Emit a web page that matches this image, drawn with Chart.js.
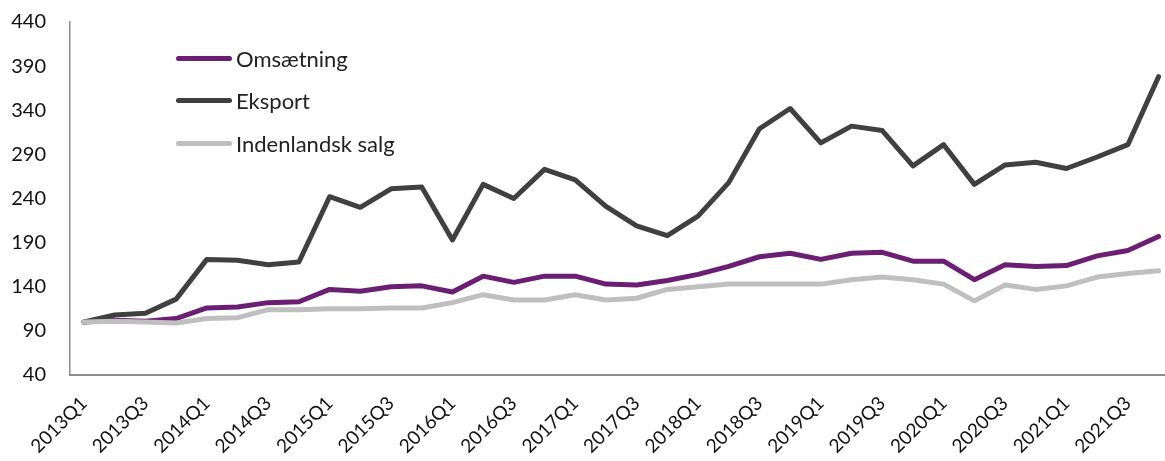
<!DOCTYPE html>
<html>
<head>
<meta charset="utf-8">
<script src="https://cdn.jsdelivr.net/npm/chart.js@4"></script>
<style>
	body { margin: 0; background: #fff; }
	.wrap { position: relative; width: 1165px; height: 461px; }
	.legend { position: absolute; left: 176px; top: 37px; font-family: Lato, "Open Sans", sans-serif; font-size: 22px; color: #222; }
	.legend div { height: 42.5px; display: flex; align-items: center; }
	.legend span.linea { display: inline-block; width: 56px; height: 5px; border-radius: 3px; margin-right: 4px; }
</style>
</head>
<body>
<div class="wrap">
	<canvas id="Grafico" width="1165" height="461"></canvas>
	<div class="legend" id="leyenda"></div>
</div>
<script>
	// periodos (trimestres)
	const periodo = [
		"2013Q1","2013Q2","2013Q3","2013Q4","2014Q1","2014Q2","2014Q3","2014Q4",
		"2015Q1","2015Q2","2015Q3","2015Q4","2016Q1","2016Q2","2016Q3","2016Q4",
		"2017Q1","2017Q2","2017Q3","2017Q4","2018Q1","2018Q2","2018Q3","2018Q4",
		"2019Q1","2019Q2","2019Q3","2019Q4","2020Q1","2020Q2","2020Q3","2020Q4",
		"2021Q1","2021Q2","2021Q3","2021Q4"
	]

	// valores
	const omsaetning = [100, 102, 101, 104, 116, 117, 122, 123, 137, 135, 140, 141, 134, 152, 145, 152,
		152, 143, 142, 147, 154, 163, 174, 178, 171, 178, 179, 169, 169, 148, 165, 163, 164, 175, 181, 197]
	const eksport = [100, 108, 110, 126, 171, 170, 165, 168, 242, 230, 251, 253, 193, 256, 240, 273,
		261, 231, 209, 198, 220, 258, 319, 342, 303, 322, 317, 277, 301, 256, 278, 281, 274, 287, 301, 378]
	const indenlandsk = [100, 101, 100, 99, 104, 105, 114, 114, 115, 115, 116, 116, 122, 131, 125, 125,
		131, 125, 127, 137, 140, 143, 143, 143, 143, 148, 151, 148, 143, 124, 142, 137, 141, 151, 155, 158]

	const yTicks = [40, 90, 140, 190, 240, 290, 340, 390, 440]

	const series = [
		{ nombre: "Omsætning", datos: omsaetning, color: "#6b1e74" },
		{ nombre: "Eksport", datos: eksport, color: "#404040" },
		{ nombre: "Indenlandsk salg", datos: indenlandsk, color: "#bfbfbf" }
	]

	// leyenda en html
	let leyenda = document.querySelector("#leyenda")
	series.forEach(s => {
		leyenda.innerHTML += `
			<div><span class="linea" style="background:${s.color}"></span>${s.nombre}</div>
		`
	})

	const fuente = "Lato, 'Open Sans', sans-serif"

	const valores = {
		datasets: series.slice().reverse().map(s => ({
			label: s.nombre,
			data: s.datos.map((v, i) => ({ x: i, y: v })),
			borderColor: s.color,
			backgroundColor: s.color,
			borderWidth: 5,
			pointRadius: 0,
			tension: 0,
			borderJoinStyle: 'round',
			borderCapStyle: 'round'
		}))
	}

	const options = {
		responsive: false,
		animation: false,
		layout: { padding: { top: 22, right: 0, left: 0, bottom: 0 } },
		plugins: {
			legend: { display: false },
			tooltip: { enabled: false }
		},
		scales: {
			x: {
				type: 'linear',
				min: -0.456,
				max: 35.21,
				grid: { display: false, drawTicks: false },
				border: { color: '#8c8c8c', width: 2 },
				afterBuildTicks: axis => {
					axis.ticks = periodo.map((p, i) => ({ value: i })).filter(t => t.value % 2 == 0)
				},
				afterFit: scale => { scale.height = 86 },
				ticks: {
					autoSkip: false,
					minRotation: 45,
					maxRotation: 45,
					padding: 17,
					color: '#111',
					font: { family: fuente, size: 19 },
					callback: v => periodo[v]
				}
			},
			y: {
				min: 40,
				max: 440,
				grid: { display: false, drawTicks: false },
				border: { color: '#8c8c8c', width: 1.5 },
				afterBuildTicks: axis => {
					axis.ticks = yTicks.map(v => ({ value: v }))
				},
				afterFit: scale => {
					scale.width = 70
					// sin relleno extra arriba/abajo para que el area coincida
					scale.paddingTop = 0
					scale.paddingBottom = 0
				},
				ticks: {
					padding: 24,
					color: '#111',
					font: { family: fuente, size: 20 }
				}
			}
		}
	}

	const grafico = new Chart(document.querySelector("#Grafico"), {
		type: 'line',
		data: valores,
		options: options
	})
</script>
</body>
</html>
